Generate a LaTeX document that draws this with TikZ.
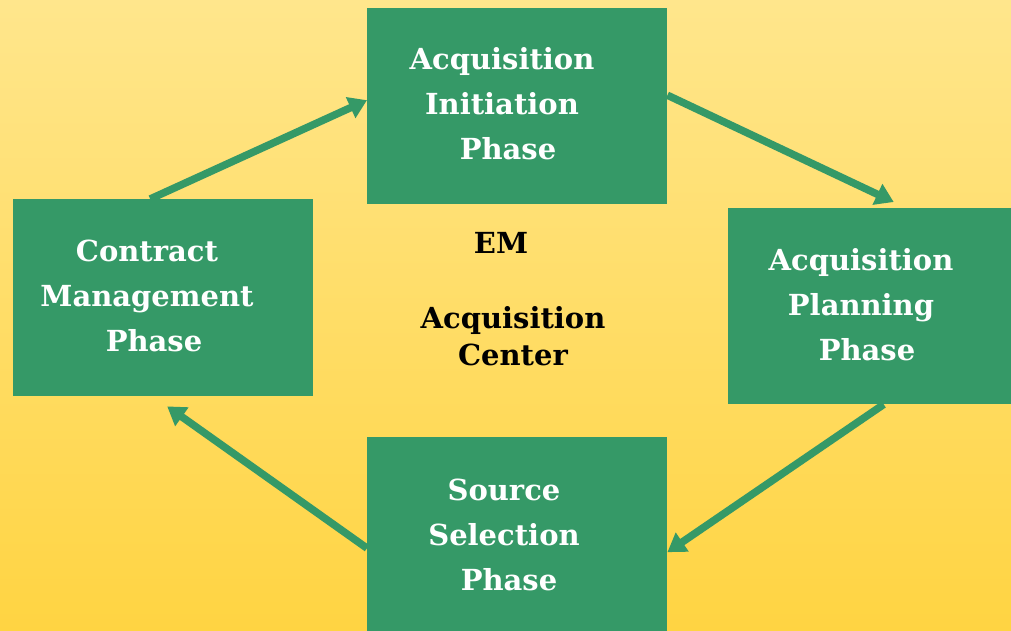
\documentclass[tikz,border=0pt]{standalone}
\usepackage{fontspec}
\setmainfont{DejaVu Serif}
\usetikzlibrary{arrows.meta}
\definecolor{bgtop}{RGB}{255,230,140}
\definecolor{bgbot}{RGB}{255,212,66}
\definecolor{boxgreen}{RGB}{53,153,103}
\tikzset{
  phasebox/.style={fill=boxgreen, draw=none, inner sep=0pt, anchor=north west},
  phasetext/.style={text=white, align=center, font=\fontsize{29}{45}\selectfont\bfseries, inner sep=0pt},
  centertext/.style={text=black, align=center, font=\fontsize{29}{37}\selectfont\bfseries, inner sep=0pt},
  flow/.style={draw=boxgreen, line width=7.5pt, -{Triangle[length=18pt,width=22pt]}}
}
\begin{document}
\begin{tikzpicture}[x=1pt,y=-1pt]
\useasboundingbox (0,0) rectangle (1011,631);
\shade[top color=bgtop, bottom color=bgbot] (0,0) rectangle (1011,631);
% boxes
\node[phasebox, minimum width=300pt, minimum height=196pt] (top) at (367,8) {};
\node[phasebox, minimum width=300pt, minimum height=197pt] (left) at (13,199) {};
\node[phasebox, minimum width=283pt, minimum height=196pt] (right) at (728,208) {};
\node[phasebox, minimum width=300pt, minimum height=194pt] (bottom) at (367,437) {};
% texts
\node[phasetext] (toptext) at (502,104) {Acquisition\\Initiation\\\hspace*{12pt}Phase};
\node[phasetext] (lefttext) at (147,296) {Contract\\Management\\\hspace*{14pt}Phase};
\node[phasetext] (righttext) at (861,305) {Acquisition\\Planning\\\hspace*{12pt}Phase};
\node[phasetext] (bottomtext) at (504,535) {Source\\Selection\\\hspace*{10pt}Phase};
\node[centertext] (em) at (501,243) {EM};
\node[centertext] (center) at (513,336) {Acquisition\\Center};
% connector end points
\coordinate (a1s) at ([xshift=-13pt]left.north);
\coordinate (a1e) at ([yshift=6pt]top.west);
\coordinate (a2s) at ([yshift=11pt]top.east);
\coordinate (a2e) at ([xshift=24pt,yshift=6pt]right.north);
\coordinate (a3s) at ([xshift=14pt]right.south);
\coordinate (a3e) at ([yshift=-18pt]bottom.east);
\coordinate (a4s) at ([yshift=-14pt]bottom.west);
\coordinate (a4e) at ([xshift=4pt,yshift=-10pt]left.south);
\draw[flow] (a1s) -- (a1e);
\draw[flow] (a2s) -- (a2e);
\draw[flow] (a3s) -- (a3e);
\draw[flow] (a4s) -- (a4e);
\end{tikzpicture}
\end{document}
